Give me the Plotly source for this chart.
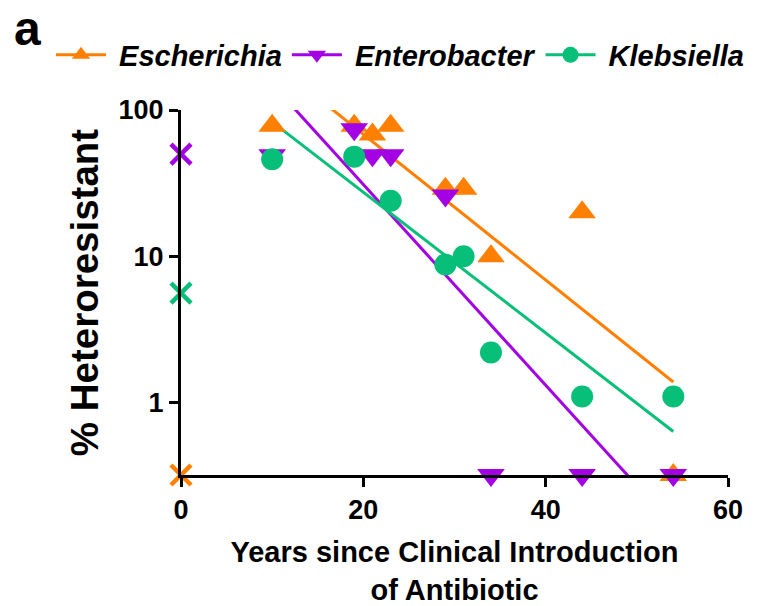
import math
import plotly.graph_objects as go

# Years since each antibiotic entered clinical use, and % heteroresistant isolates
genera = ["Escherichia", "Enterobacter", "Klebsiella"]
colors = ["#FF8000", "#A300E3", "#08BF7A"]
symbols = ["triangle-up", "triangle-down", "circle"]

years_escherichia = [10, 19, 21, 23, 29, 31, 34, 44, 54]
pct_escherichia = [78, 78, 68, 78, 29, 29, 10, 20, 0]

years_enterobacter = [10, 19, 21, 23, 29, 34, 44, 54]
pct_enterobacter = [49, 74, 49, 49, 26, 0, 0, 0]

years_klebsiella = [10, 19, 23, 29, 31, 34, 44, 54]
pct_klebsiella = [46, 48, 24, 8.8, 10, 2.2, 1.1, 1.1]

# Values at year 0 (before clinical introduction)
baseline_year = [0, 0, 0]
baseline_pct = [0, 50, 5.6]

# Log-linear trend lines: log10(pct) = intercept + slope * years
fit_years = [10, 54]
fit_intercept = [2.830, 2.863, 2.400]
fit_slope = [-0.0498, -0.0686, -0.0481]

# Undetected (0 %) values sit on the floor of the log axis
Y_FLOOR = 0.32

years = [years_escherichia, years_enterobacter, years_klebsiella]
pcts = [pct_escherichia, pct_enterobacter, pct_klebsiella]
marker_sizes = [24, 24, 22]


def on_axis(values):
    return [v if v > 0 else Y_FLOOR for v in values]


fig = go.Figure()

# trend lines underneath every marker
for col, a, b in zip(colors, fit_intercept, fit_slope):
    fig.add_trace(go.Scatter(
        x=fit_years, y=[10 ** (a + b * x) for x in fit_years],
        mode="lines", line=dict(color=col, width=3),
        showlegend=False, hoverinfo="skip"))

# observed values
for name, col, sym, size, xs, ys in zip(genera, colors, symbols, marker_sizes, years, pcts):
    fig.add_trace(go.Scatter(
        x=xs, y=on_axis(ys), mode="markers", name=name,
        marker=dict(symbol=sym, size=size, color=col, line=dict(width=0)),
        cliponaxis=False, showlegend=False))

# year-0 values drawn as crosses on the y axis
for i, col in enumerate(colors):
    fig.add_trace(go.Scatter(
        x=[baseline_year[i]], y=on_axis([baseline_pct[i]]), mode="markers",
        marker=dict(symbol="x-thin", size=20, color=col,
                    line=dict(width=4.5, color=col)),
        cliponaxis=False, showlegend=False, name=genera[i]))

# legend keys: line with marker
for name, col, sym in zip(genera, colors, symbols):
    fig.add_trace(go.Scatter(
        x=[None], y=[None], mode="lines+markers", name="\u00a0" + name,
        line=dict(color=col, width=3),
        marker=dict(symbol=sym, size=16, color=col)))

FONT = "Liberation Sans, Arial, sans-serif"
L, R, T, B = 181, 29, 110, 131
W, H = 757, 606
PW, PH = W - L - R, H - T - B

fig.update_layout(
    width=W, height=H,
    margin=dict(l=L, r=R, t=T, b=B, autoexpand=False),
    paper_bgcolor="white", plot_bgcolor="white",
    font=dict(family=FONT, color="black"),
    legend=dict(
        orientation="h", xref="paper", yref="paper",
        x=(51 - L) / PW, y=1 + (T - 55) / PH, xanchor="left", yanchor="middle",
        itemwidth=50, bgcolor="rgba(0,0,0,0)",
        font=dict(family=FONT, size=29, weight="bold", style="italic", color="black"),
    ),
    xaxis=dict(
        range=[0, 60], tickvals=[0, 20, 40, 60],
        showline=True, linewidth=3, linecolor="black",
        ticks="outside", ticklen=9, tickwidth=3, tickcolor="black",
        showgrid=False, zeroline=False, automargin=False,
        tickfont=dict(family=FONT, size=27, weight="bold", color="black"),
        title=dict(text="Years since Clinical Introduction<br>of Antibiotic",
                   font=dict(family=FONT, size=29, weight="bold", color="black"),
                   standoff=20),
    ),
    yaxis=dict(
        type="log", range=[math.log10(Y_FLOOR), 2],
        tickvals=[1, 10, 100], ticktext=["1", "10", "100"],
        showline=True, linewidth=3, linecolor="black",
        ticks="outside", ticklen=9, tickwidth=3, tickcolor="black",
        showgrid=False, zeroline=False, automargin=False,
        tickfont=dict(family=FONT, size=27, weight="bold", color="black"),
        title=dict(text="% Heteroresistant",
                   font=dict(family=FONT, size=38.5, weight="bold", color="black"),
                   standoff=9),
    ),
    annotations=[dict(
        text="a", xref="paper", yref="paper",
        x=(27 - L) / PW, y=1 + (T - 1) / PH,
        xanchor="center", yanchor="top", showarrow=False, borderpad=0,
        font=dict(family=FONT, size=48, weight="bold", color="black"))],
)

fig.write_html("out.html")
